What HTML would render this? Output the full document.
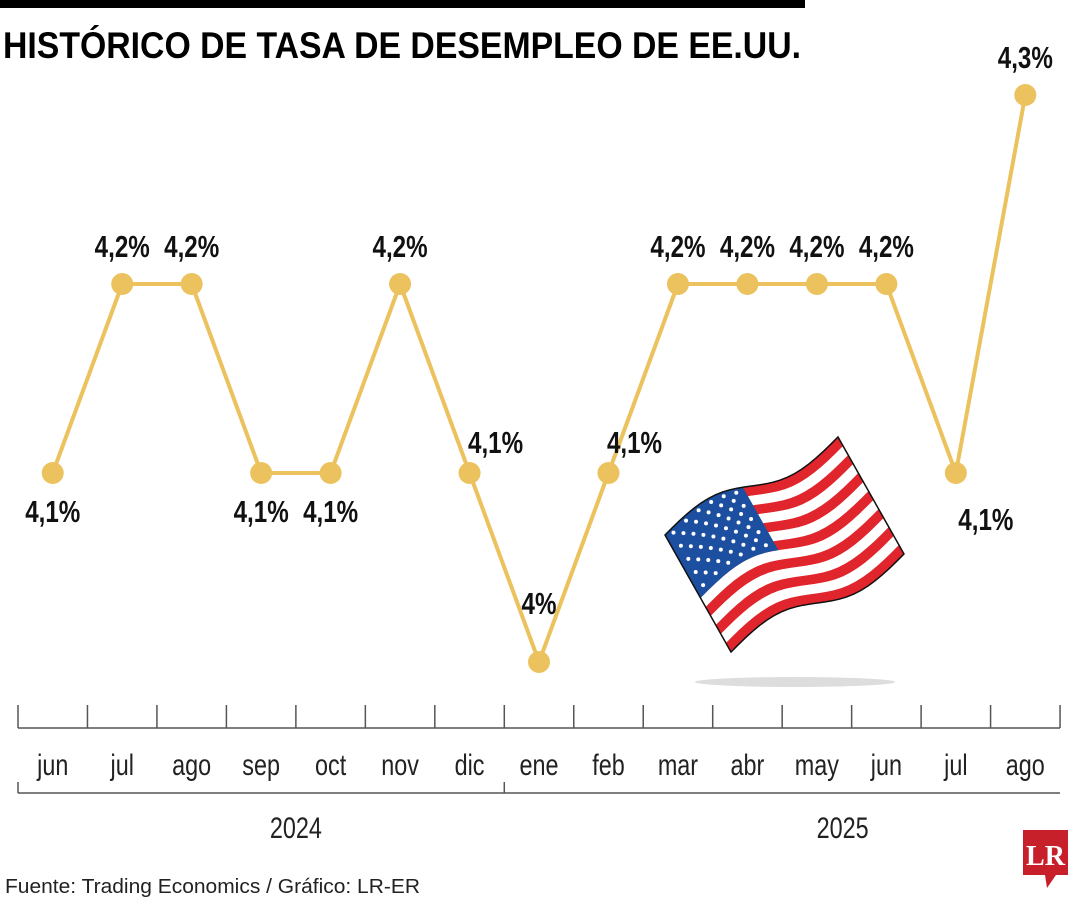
<!DOCTYPE html>
<html><head><meta charset="utf-8"><style>
html,body{margin:0;padding:0;background:#fff;}
body{width:1080px;height:900px;position:relative;overflow:hidden;font-family:"Liberation Sans",sans-serif;}
</style></head><body>
<svg id="chart" width="1080" height="900" viewBox="0 0 1080 900" xmlns="http://www.w3.org/2000/svg">
<rect x="0" y="0" width="805" height="8" fill="#000"/>
<text x="3" y="58" font-family="Liberation Sans" font-weight="bold" font-size="37" fill="#000" textLength="798" lengthAdjust="spacingAndGlyphs">HISTÓRICO DE TASA DE DESEMPLEO DE EE.UU.</text>
<g id="axis"></g>
<g id="flag"></g>
<g id="series"></g>
<text x="5" y="893" font-family="Liberation Sans" font-size="20" fill="#222" textLength="415" lengthAdjust="spacingAndGlyphs">Fuente: Trading Economics / Gráfico: LR-ER</text>
<g>
<path d="M1023,830 H1068 V875 H1056 L1047,888 L1045,875 H1023 Z" fill="#C8202A"/>
<text x="1045.5" y="865" text-anchor="middle" font-family="Liberation Serif" font-weight="bold" font-size="28" fill="#fff">LR</text>
</g>
</svg>
<script>
const months=["jun","jul","ago","sep","oct","nov","dic","ene","feb","mar","abr","may","jun","jul","ago"];
const values=[4.1,4.2,4.2,4.1,4.1,4.2,4.1,4.0,4.1,4.2,4.2,4.2,4.2,4.1,4.3];
const valueLabels=["4,1%","4,2%","4,2%","4,1%","4,1%","4,2%","4,1%","4%","4,1%","4,2%","4,2%","4,2%","4,2%","4,1%","4,3%"];
const labelPos=["below","above","above","below","below","above","aboveRight","above","aboveRight","above","above","above","above","belowRight","above"];
const years=["2024","2025"];
const yearSpans=[[0,7],[7,15]];
const NS="http://www.w3.org/2000/svg";
const x0=18,step=69.47;
const yearLabelEdge=[4,11.87];
function xEdge(i){return x0+i*step;}
function xPos(i){return x0+(i+0.5)*step;}
function yPos(v){return 284-(v-4.2)*1890;}
function mk(tag,attrs,parent){const e=document.createElementNS(NS,tag);for(const k in attrs)e.setAttribute(k,attrs[k]);parent.appendChild(e);return e;}
const axis=document.getElementById('axis');
const al=mk('line',{x1:xEdge(0),x2:xEdge(months.length),y1:728,y2:728,stroke:'#555','stroke-width':1.5},axis);

for(let i=0;i<=months.length;i++){const t=mk('line',{x1:xEdge(i),x2:xEdge(i),y1:705,y2:728,stroke:'#555','stroke-width':1.5},axis);
}
months.forEach((m,i)=>{const t=mk('text',{x:xPos(i),y:775,'text-anchor':'middle','font-size':30,fill:'#222',transform:`translate(${xPos(i)} 0) scale(0.78 1) translate(${-xPos(i)} 0)`},axis);
t.textContent=m;});
const bl=mk('line',{x1:xEdge(0),x2:xEdge(months.length),y1:793,y2:793,stroke:'#555','stroke-width':1.5},axis);

yearSpans.forEach((s,k)=>{const t=mk('line',{x1:xEdge(s[0]),x2:xEdge(s[0]),y1:782,y2:793,stroke:'#555','stroke-width':1.5},axis);

const cx=xEdge(yearLabelEdge[k]);
const y=mk('text',{x:cx,y:838,'text-anchor':'middle','font-size':30,fill:'#222',transform:`translate(${cx} 0) scale(0.78 1) translate(${-cx} 0)`},axis);
y.textContent=years[k];});
// flag
const flag=document.getElementById('flag');
const sh=mk('ellipse',{cx:795,cy:682,rx:100,ry:5,fill:'#ddd'},flag);

function P(u,v){return [665+u*173+v*66, 535-u*98+v*117-12*Math.sin(2*Math.PI*u)];}
function band(u0,u1,v0,v1){let pts=[];const N=24;for(let k=0;k<=N;k++){pts.push(P(u0+(u1-u0)*k/N,v0));}for(let k=N;k>=0;k--){pts.push(P(u0+(u1-u0)*k/N,v1));}return pts.map(p=>p[0].toFixed(1)+','+p[1].toFixed(1)).join(' ');}
for(let s=0;s<13;s++){const p=mk('polygon',{points:band(0,1,s/13,(s+1)/13),fill:s%2?'#fff':'#E0262C'},flag);
}
const c=mk('polygon',{points:band(0,0.45,0,7/13),fill:'#1D4FA0'},flag);

for(let r=0;r<9;r++){const n=r%2?5:6;for(let k=0;k<n;k++){const u=(k+(r%2?1:0.5))/6.2*0.45;const v=(r+0.6)/9.6*7/13;const p=P(u,v);
const st=mk('circle',{cx:p[0],cy:p[1],r:2,fill:'#fff'},flag);}}
const ol=mk('polygon',{points:band(0,1,0,1),fill:'none',stroke:'#111','stroke-width':1.5},flag);

// series
const g=document.getElementById('series');
const line=mk('polyline',{points:values.map((v,i)=>xPos(i)+','+yPos(v)).join(' '),fill:'none',stroke:'#EBC25E','stroke-width':4,'stroke-linejoin':'round'},g);

values.forEach((v,i)=>{const x=xPos(i),y=yPos(v);
const d=mk('circle',{cx:x,cy:y,r:11,fill:'#EBC25E'},g);
let lx=x,ly=y-27,anchor='middle';const pos=labelPos[i];
if(pos==='below'){ly=y+49;}
if(pos==='aboveRight'){lx=x+26;ly=y-20;}
if(pos==='belowRight'){lx=x+30;ly=y+57;}
if(pos==='above'&&v<4.05){ly=y-48;}
if(pos==='above'&&v>4.25){ly=y-27;}
const t=mk('text',{x:lx,y:ly,'text-anchor':anchor,'font-weight':'bold','font-size':31,fill:'#111',transform:`translate(${lx} 0) scale(0.78 1) translate(${-lx} 0)`},g);
t.textContent=valueLabels[i];});
</script>
</body></html>
